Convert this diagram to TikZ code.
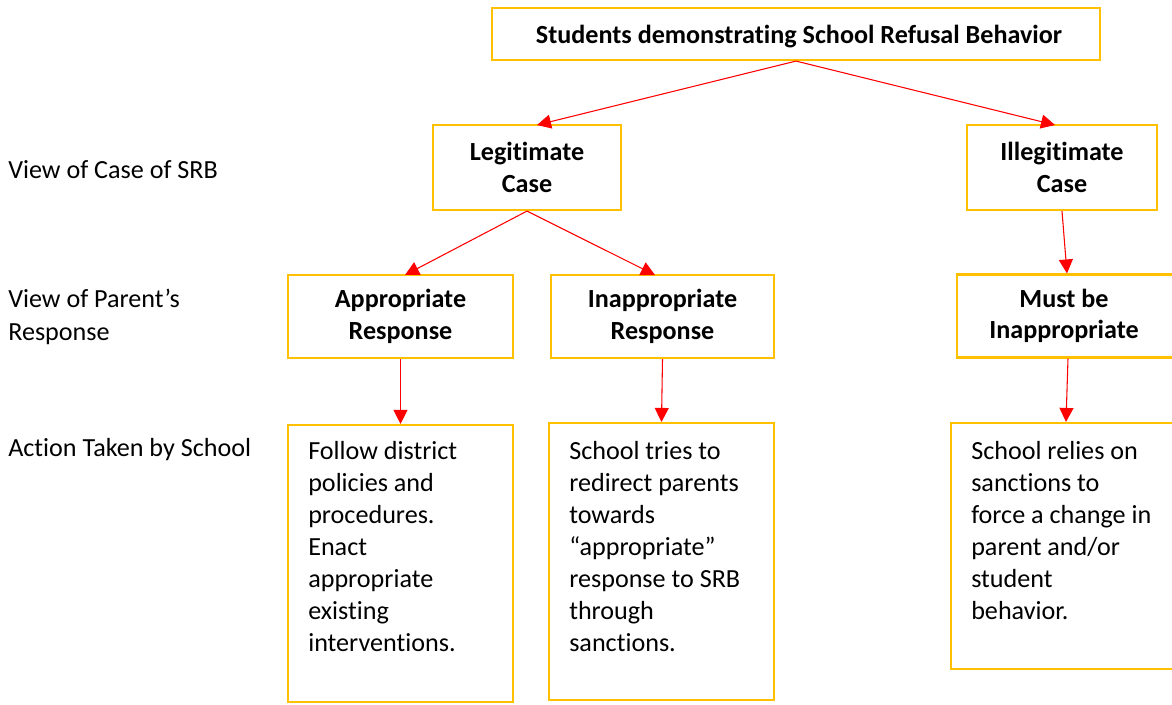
\documentclass[tikz,border=0pt]{standalone}
\usepackage{fontspec}
\setmainfont{Carlito}[Ligatures=NoCommon]
\usetikzlibrary{arrows.meta,calc}
\definecolor{boxgold}{HTML}{FFC000}
\definecolor{linkred}{HTML}{FF0000}
\begin{document}
\begin{tikzpicture}[x=0.75pt,y=-0.75pt,
  box/.style={draw=boxgold,line width=1.6pt,fill=white,inner sep=0pt,
    font=\fontsize{19.6}{23.5}\selectfont\bfseries,align=center},
  link/.style={draw=linkred,line width=0.8pt,
    -{Triangle[length=10.5pt,width=10.5pt]}},
  side/.style={anchor=west,align=left,inner sep=0pt,
    font=\fontsize{19.6}{24.5}\selectfont},
  body/.style={anchor=north west,align=left,inner sep=0pt,
    font=\fontsize{19.6}{24}\selectfont}]
\clip (0,0) rectangle (1172,704);
\fill[white] (0,0) rectangle (1172,704);

% row labels
\node[side] (lcase) at (8,170) {View of Case of SRB};
\node[side] (lparent) at (8,317) {View of Parent’s\\Response};
\node[side] (laction) at (8,450) {Action Taken by School};

% connector end points on the box tops
\coordinate (legin) at (537,125);
\coordinate (illin) at (1055,125);
\coordinate (appin) at (405,275);
\coordinate (insin) at (655,275);

% top of the tree
\node[box,minimum width=456pt,minimum height=39pt] (top) at (796,34) {};
\node[box,draw=none,fill=none] (toptext) at (799,37)
  {Students demonstrating School Refusal Behavior};

% case view
\node[box,minimum width=141pt,minimum height=63.75pt] (leg) at (527,167.5)
  {Legitimate\\Case};
\node[box,minimum width=142.5pt,minimum height=63.75pt] (ill) at (1062,167.5)
  {Illegitimate\\Case};

% parent response
\node[box,minimum width=168.75pt,minimum height=62.25pt] (app) at (400.5,316.5)
  {Appropriate\\Response};
\node[box,minimum width=167.25pt,minimum height=62.25pt] (ins) at (662.5,316.5)
  {Inappropriate\\Response};
\node[box,minimum width=171pt,minimum height=62.25pt] (must) at (1071,316)
  {};
\node[box,draw=none,fill=none] (musttext) at (1064,316) {Must be\\Inappropriate};

% school actions
\node[box,minimum width=168.75pt,minimum height=207.75pt] (follow) at (400.5,563.5) {};
\node[box,minimum width=168.75pt,minimum height=207.75pt] (tries) at (661.5,561.5) {};
\node[box,minimum width=180pt,minimum height=184.5pt] (relies) at (1071,546) {};

\node[body] (tfollow) at (308,441)
  {Follow district\\policies and\\procedures.\\Enact\\appropriate\\existing\\interventions.};
\node[body] (ttries) at (569,441)
  {School tries to\\redirect parents\\towards\\“appropriate”\\response to SRB\\through\\sanctions.};
\node[body] (trelies) at (971,441)
  {School relies on\\sanctions to\\force a change in\\parent and/or\\student\\behavior.};

\draw[link] (top.south) -- (legin);
\draw[link] (top.south) -- (illin);
\draw[link] (leg.south) -- (appin);
\draw[link] (leg.south) -- (insin);
\draw[link] (ill.south) -- ($(must.north)+(-4,0)$);
\draw[link] (app.south) -- (follow.north);
\draw[link] (ins.south) -- (tries.north);
\draw[link] ($(must.south)+(-3,0)$) -- ($(relies.north)+(-5,0)$);
\end{tikzpicture}
\end{document}
